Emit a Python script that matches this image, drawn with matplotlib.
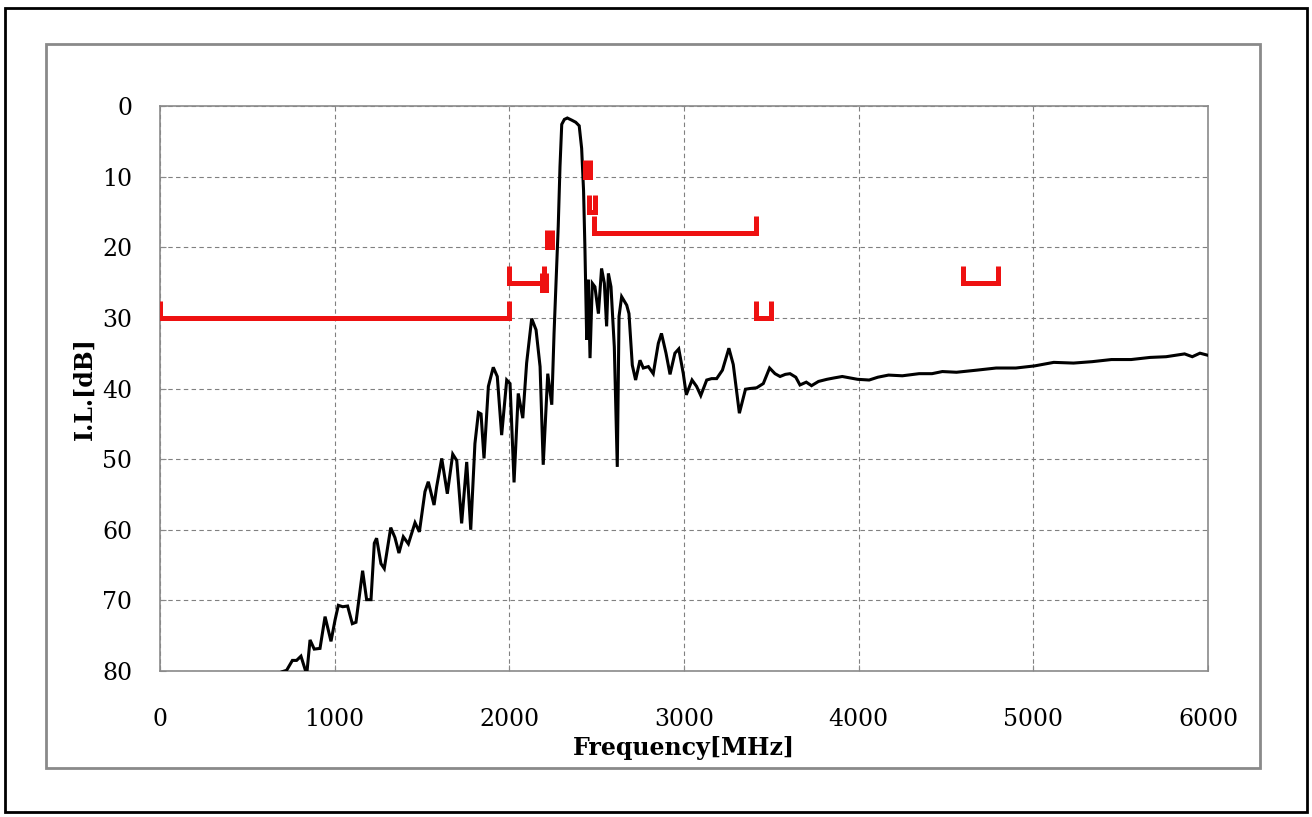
"""Insertion loss vs frequency with attenuation mask"""
import matplotlib
matplotlib.use("Agg")
import matplotlib.pyplot as plt
from matplotlib.patches import Rectangle

# measured insertion loss (MHz, dB)
freq = [700, 725, 758, 782, 807, 840, 859, 883, 916, 945, 979, 1002, 1021, 1046,
        1074, 1101, 1122, 1160, 1183, 1208, 1227, 1240, 1265, 1284, 1321, 1345,
        1368, 1393, 1422, 1460, 1485, 1517, 1536, 1569, 1584, 1613, 1645, 1676,
        1699, 1727, 1756, 1779, 1803, 1823, 1838, 1855, 1880, 1908, 1931, 1956,
        1985, 2004, 2027, 2051, 2077, 2099, 2128, 2153, 2176, 2194, 2220, 2243,
        2256, 2280, 2290, 2300, 2315, 2332, 2357, 2380, 2400, 2414, 2425, 2433,
        2443, 2452, 2462, 2475, 2490, 2510, 2528, 2544, 2557, 2567, 2582, 2601,
        2618, 2628, 2643, 2672, 2685, 2704, 2723, 2748, 2767, 2796, 2824, 2853,
        2871, 2897, 2920, 2948, 2970, 2996, 3013, 3046, 3072, 3096, 3130, 3158,
        3187, 3220, 3257, 3282, 3317, 3352, 3378, 3416, 3454, 3490, 3521, 3550,
        3580, 3607, 3640, 3664, 3700, 3730, 3770, 3818, 3860, 3906, 3950, 3994,
        4060, 4110, 4171, 4250, 4346, 4420, 4479, 4560, 4677, 4787, 4900, 5007,
        5117, 5230, 5337, 5447, 5560, 5668, 5760, 5866, 5910, 5954, 6000]
il_db = [80.1, 79.9, 78.5, 78.5, 77.9, 80.5, 75.6, 76.9, 76.8, 72.3, 75.8, 72.8, 70.7, 70.9,
         70.8, 73.3, 73.1, 65.8, 69.9, 69.9, 61.9, 61.2, 64.8, 65.5, 59.7, 61.1,
         63.3, 61.0, 62.0, 59.0, 60.3, 54.6, 53.2, 56.5, 53.9, 49.9, 54.9, 49.3,
         50.2, 59.1, 50.4, 60.0, 47.8, 43.4, 43.6, 49.9, 39.7, 37.0, 38.3, 46.6,
         38.8, 39.3, 53.3, 40.7, 44.2, 36.4, 30.1, 31.7, 36.9, 50.8, 37.9, 42.3,
         32.2, 17.0, 8.6, 2.6, 1.9, 1.7, 2.0, 2.3, 2.8, 6.0, 12.0, 20.4,
         33.1, 24.6, 35.7, 25.1, 25.6, 29.4, 23.0, 25.1, 31.2, 23.7, 25.6, 34.1,
         51.1, 29.8, 27.0, 28.2, 29.4, 36.7, 38.8, 36.0, 37.1, 36.9, 37.9, 33.6,
         32.2, 35.0, 38.0, 35.0, 34.4, 37.9, 40.9, 38.8, 39.7, 41.0, 38.8, 38.6,
         38.6, 37.4, 34.3, 36.6, 43.5, 40.1, 40.0, 39.9, 39.3, 37.1, 37.9, 38.3,
         38.0, 37.9, 38.4, 39.5, 39.1, 39.6, 39.0, 38.7, 38.5, 38.3, 38.5, 38.7,
         38.8, 38.4, 38.1, 38.2, 37.9, 37.9, 37.6, 37.7, 37.4, 37.1, 37.1, 36.8,
         36.3, 36.4, 36.2, 35.9, 35.9, 35.6, 35.5, 35.1, 35.5, 35.0, 35.3]

# attenuation mask segments (start MHz, stop MHz, required dB)
mask_lo = [0, 2000, 2185, 2215, 2433, 2458, 2485, 3410, 4600]
mask_hi = [2000, 2200, 2212, 2245, 2462, 2490, 3415, 3500, 4800]
mask_att = [30, 25, 26, 20, 10, 15, 18, 30, 25]
MASK_TICK = 2.4

SERIF = ["DejaVu Serif"]

fig = plt.figure(figsize=(13.12, 8.17), dpi=100)

# frames around the whole figure and the chart area
fig.patches.append(Rectangle((5 / 1312, 5 / 817), 1302 / 1312, 804 / 817,
                             transform=fig.transFigure, fill=False,
                             edgecolor="black", linewidth=2))
fig.patches.append(Rectangle((46 / 1312, 1 - 768 / 817), 1214 / 1312, 724 / 817,
                             transform=fig.transFigure, fill=False,
                             edgecolor="#8a8a8a", linewidth=2))

ax = fig.add_axes([160 / 1312, 1 - 671 / 817, 1048 / 1312, 565 / 817])

ax.plot(freq, il_db, color="black", linewidth=2.2, solid_joinstyle="miter", zorder=3)

for lo, hi, att in zip(mask_lo, mask_hi, mask_att):
    ax.plot([lo, lo, hi, hi], [att - MASK_TICK, att, att, att - MASK_TICK],
            color="#ee1111", linewidth=3.6, solid_joinstyle="miter",
            solid_capstyle="butt", zorder=4)

ax.set_xlim(0, 6000)
ax.set_ylim(80, 0)
ax.set_xticks(range(0, 6001, 1000))
ax.set_yticks(range(0, 81, 10))
ax.grid(True, color="#808080", linestyle=(0, (4, 3)), linewidth=0.8)
for s in ax.spines.values():
    s.set_color("#8a8a8a")
    s.set_linewidth(1.2)
ax.tick_params(axis="both", direction="in", length=4, color="#8a8a8a",
               labelsize=17, labelfontfamily=SERIF[0])
ax.tick_params(axis="x", pad=27)
ax.tick_params(axis="y", pad=20)

ax.set_xlabel("Frequency[MHz]", family=SERIF, fontsize=17, fontweight="bold", labelpad=3)
ax.set_ylabel("I.L.[dB]", family=SERIF, fontsize=17, fontweight="bold", labelpad=4)

fig.savefig("out.png", dpi=100)
